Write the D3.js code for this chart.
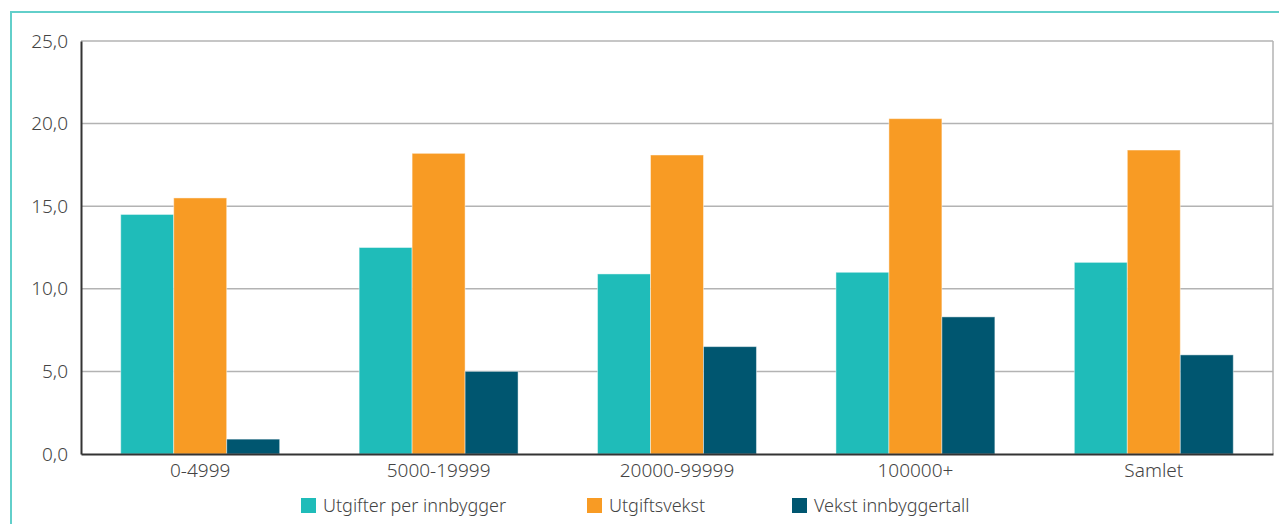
<!DOCTYPE html>
<html>
<head>
<meta charset="utf-8">
<script src="https://cdn.jsdelivr.net/npm/d3@7"></script>
<style>
  html, body { margin: 0; padding: 0; background: #fff; }
  svg { display: block; }
  text { font-family: "Noto Sans", "Open Sans", sans-serif; fill: #444; font-weight: 300; }
</style>
</head>
<body>
<svg id="chart" width="1279" height="524"></svg>
<script>
// Kommunegrupper etter innbyggertall
const categories = ["0-4999", "5000-19999", "20000-99999", "100000+", "Samlet"];
const seriesNames = ["Utgifter per innbygger", "Utgiftsvekst", "Vekst innbyggertall"];
const utgifterPerInnbygger = [14.5, 12.5, 10.9, 11.0, 11.6];
const utgiftsvekst = [15.5, 18.2, 18.1, 20.3, 18.4];
const vekstInnbyggertall = [0.9, 5.0, 6.5, 8.3, 6.0];
const yTicks = [0, 5, 10, 15, 20, 25];
const colors = ["#1fbcb9", "#f89b24", "#005670"];

const seriesValues = [utgifterPerInnbygger, utgiftsvekst, vekstInnbyggertall];
const rows = categories.map((c, i) => ({
  category: c,
  values: seriesNames.map((s, k) => ({ key: s, k, value: seriesValues[k][i] }))
}));

const svg = d3.select("#chart");
const m = { left: 81, top: 41, right: 1273, bottom: 454 };

// Ytre ramme
svg.append("path")
  .attr("d", `M11,530 V12 H1290`)
  .attr("fill", "none")
  .attr("stroke", "#62cfca")
  .attr("stroke-width", 2);

const x = d3.scaleBand().domain(categories).range([m.left, m.right]).paddingInner(0).paddingOuter(0);
const x1 = d3.scaleBand().domain(seriesNames).range([x.bandwidth() / 6, x.bandwidth() * 5 / 6]);
const y = d3.scaleLinear().domain([0, 25]).range([m.bottom, m.top]);

// Rutenett
svg.append("g")
  .selectAll("line")
  .data(yTicks.filter(t => t > 0))
  .join("line")
  .attr("x1", m.left).attr("x2", m.right)
  .attr("y1", d => y(d)).attr("y2", d => y(d))
  .attr("stroke", "#b3b3b3")
  .attr("stroke-width", 1.5);

// Høyre kant
svg.append("line")
  .attr("x1", m.right).attr("x2", m.right)
  .attr("y1", m.top).attr("y2", m.bottom)
  .attr("stroke", "#b3b3b3").attr("stroke-width", 1.5);

// Stolper
const groups = svg.append("g")
  .selectAll("g")
  .data(rows)
  .join("g")
  .attr("transform", d => `translate(${x(d.category)},0)`);

groups.selectAll("rect")
  .data(d => d.values)
  .join("rect")
  .attr("x", d => x1(d.key))
  .attr("width", x1.bandwidth())
  .attr("y", d => y(d.value))
  .attr("height", d => y(0) - y(d.value))
  .attr("fill", d => colors[d.k])
  .attr("stroke", "rgba(255,255,255,0.45)")
  .attr("stroke-width", 1);

// Akser
const yAxis = d3.axisLeft(y).tickValues(yTicks)
  .tickFormat(d => d3.format(".1f")(d).replace(".", ","))
  .tickSize(0).tickPadding(13);
const gy = svg.append("g").attr("transform", `translate(${m.left},0)`).call(yAxis);
gy.select(".domain").attr("stroke", "#333").attr("stroke-width", 2);
gy.selectAll("text").style("font-size", "19px").attr("fill", "#444");

const xAxis = d3.axisBottom(x).tickSize(0).tickPadding(10);
const gx = svg.append("g").attr("transform", `translate(0,${m.bottom})`).call(xAxis);
gx.select(".domain").attr("stroke", "#333").attr("stroke-width", 2);
gx.selectAll("text").style("font-size", "19px").attr("fill", "#444");
svg.selectAll(".tick text").attr("font-family", null);

// Tegnforklaring
const legendX = [301, 587, 792];
const legend = svg.append("g")
  .selectAll("g")
  .data(seriesNames)
  .join("g")
  .attr("transform", (d, i) => `translate(${legendX[i]},498)`);
legend.append("rect")
  .attr("width", 15).attr("height", 15)
  .attr("fill", (d, i) => colors[i]);
legend.append("text")
  .attr("x", 22).attr("y", 14)
  .style("font-size", "18px")
  .text(d => d);
</script>
</body>
</html>
